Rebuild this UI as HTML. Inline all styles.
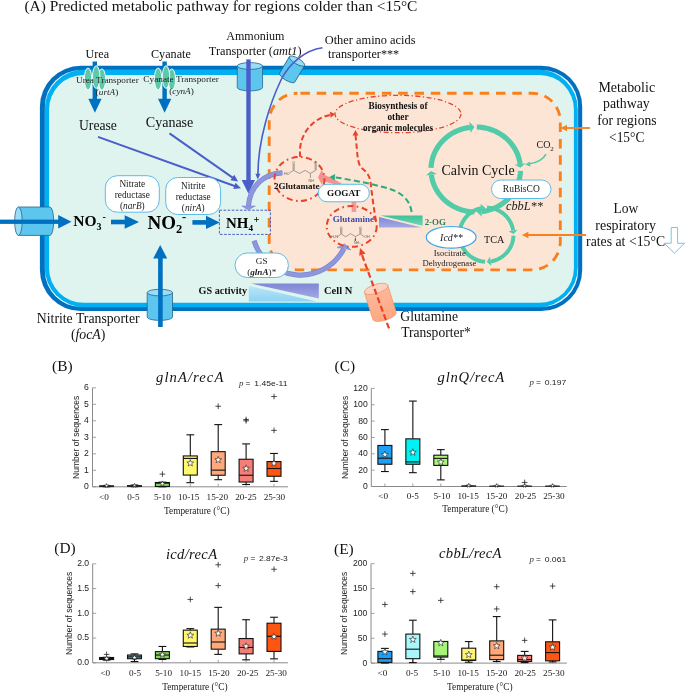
<!DOCTYPE html><html><head><meta charset="utf-8"><style>html,body{margin:0;padding:0;background:#fff;}svg{display:block;will-change:transform;}</style></head><body><svg width="685" height="692" viewBox="0 0 685 692">
<rect width="685" height="692" fill="#fff"/>
<defs><linearGradient id="gpur" x1="0" y1="0" x2="0" y2="1"><stop offset="0" stop-color="#7F86D6"/><stop offset="1" stop-color="#A3A9E3"/></linearGradient><linearGradient id="glb" x1="0" y1="0" x2="0" y2="1"><stop offset="0" stop-color="#B9E6F8"/><stop offset="1" stop-color="#8ED3F3"/></linearGradient><linearGradient id="ggr" x1="0" y1="0" x2="0" y2="1"><stop offset="0" stop-color="#3FC196"/><stop offset="1" stop-color="#6FD6B5"/></linearGradient><linearGradient id="gsal" x1="0" y1="0" x2="0" y2="1"><stop offset="0" stop-color="#FDB99B"/><stop offset="1" stop-color="#FEA781"/></linearGradient></defs>
<text x="24.4" y="11.2" font-family="Liberation Serif" font-size="15.4" font-weight="normal" font-style="normal" fill="#111" text-anchor="start" textLength="393" lengthAdjust="spacingAndGlyphs" >(A) Predicted metabolic pathway for regions colder than &lt;15°C</text>
<rect x="39.9" y="65.8" width="542.3" height="245.2" rx="41" fill="#0070C0"/>
<rect x="44.9" y="69.9" width="533.2" height="237.1" rx="36.4" fill="#fff"/>
<rect x="44.7" y="69.6" width="533.1" height="237.6" rx="39.6" fill="#00B0F0"/>
<rect x="49.05" y="74.9" width="524.85" height="227.95" rx="34.5" fill="#DFF4EF"/>
<rect x="269.2" y="93.2" width="291.1" height="176.7" rx="28.2" fill="#FDE5D6" stroke="#F8801F" stroke-width="2.9" stroke-dasharray="9.5 6.8" stroke-dashoffset="13.3"/>
<text x="85.5" y="57.8" font-family="Liberation Serif" font-size="12.1" font-weight="normal" font-style="normal" fill="#111" text-anchor="start" textLength="23.5" lengthAdjust="spacingAndGlyphs" >Urea</text>
<rect x="92.6" y="61.5" width="4.4" height="38" fill="#0070C0"/>
<polygon points="88.3,98.8 101.6,98.8 94.9,112.7" fill="#0070C0"/>
<ellipse cx="101.9" cy="79.5" rx="3.7" ry="10.6" fill="#5CCAA8" stroke="#fff" stroke-width="0.9"/>
<ellipse cx="88.0" cy="79.0" rx="3.7" ry="11.0" fill="#5CCAA8" stroke="#fff" stroke-width="0.9"/>
<ellipse cx="96.2" cy="77.1" rx="3.7" ry="11.3" fill="#5CCAA8" stroke="#fff" stroke-width="0.9"/>
<text x="76" y="83.2" font-family="Liberation Serif" font-size="9.2" font-weight="normal" font-style="normal" fill="#222" text-anchor="start" textLength="62.7" lengthAdjust="spacingAndGlyphs" >Urea Transporter</text>
<text x="95.8" y="94.9" font-family="Liberation Serif" font-size="9.2" font-weight="normal" font-style="normal" fill="#222" text-anchor="start" >(<tspan font-style="italic">urtA</tspan>)</text>
<text x="151" y="57.8" font-family="Liberation Serif" font-size="12.1" font-weight="normal" font-style="normal" fill="#111" text-anchor="start" textLength="39.8" lengthAdjust="spacingAndGlyphs" >Cyanate</text>
<rect x="162.4" y="61.5" width="4.4" height="38" fill="#0070C0"/>
<polygon points="158,98.8 171.3,98.8 164.6,112.7" fill="#0070C0"/>
<ellipse cx="171.8" cy="79.5" rx="3.7" ry="10.6" fill="#5CCAA8" stroke="#fff" stroke-width="0.9"/>
<ellipse cx="158.1" cy="79.0" rx="3.7" ry="11.0" fill="#5CCAA8" stroke="#fff" stroke-width="0.9"/>
<ellipse cx="166.0" cy="77.1" rx="3.7" ry="11.3" fill="#5CCAA8" stroke="#fff" stroke-width="0.9"/>
<text x="143.3" y="82.4" font-family="Liberation Serif" font-size="9.2" font-weight="normal" font-style="normal" fill="#222" text-anchor="start" textLength="75.6" lengthAdjust="spacingAndGlyphs" >Cyanate Transporter</text>
<text x="169.3" y="94.2" font-family="Liberation Serif" font-size="9.2" font-weight="normal" font-style="normal" fill="#222" text-anchor="start" >(<tspan font-style="italic">cynA</tspan>)</text>
<text x="79" y="129.9" font-family="Liberation Serif" font-size="13.6" font-weight="normal" font-style="normal" fill="#111" text-anchor="start" textLength="37.9" lengthAdjust="spacingAndGlyphs" >Urease</text>
<text x="145.8" y="127" font-family="Liberation Serif" font-size="13.9" font-weight="normal" font-style="normal" fill="#111" text-anchor="start" textLength="47.5" lengthAdjust="spacingAndGlyphs" >Cyanase</text>
<line x1="98" y1="136.9" x2="236" y2="186.5" stroke="#4A5DC8" stroke-width="1.9"/>
<polygon points="233.30,188.94 241.00,188.20 235.53,182.73" fill="#4A5DC8"/>
<line x1="169.5" y1="133.4" x2="234" y2="178.6" stroke="#4A5DC8" stroke-width="1.9"/>
<polygon points="230.47,180.18 238.10,181.50 234.26,174.78" fill="#4A5DC8"/>
<text x="226.2" y="39.7" font-family="Liberation Serif" font-size="12.1" font-weight="normal" font-style="normal" fill="#111" text-anchor="start" textLength="58.3" lengthAdjust="spacingAndGlyphs" >Ammonium</text>
<text x="208.8" y="54.7" font-family="Liberation Serif" font-size="12.2" font-weight="normal" font-style="normal" fill="#111" text-anchor="start" textLength="92.8" lengthAdjust="spacingAndGlyphs" >Transporter (<tspan font-style="italic">amt1</tspan>)</text>
<g>
<path d="M237.25,66 L237.25,87.5 A12.65,3.4 0 0 0 262.55,87.5 L262.55,66 Z" fill="#5CC6EE" stroke="#23668F" stroke-width="0.8"/>
<ellipse cx="249.9" cy="66" rx="12.65" ry="3.4" fill="#9ADDF5" stroke="#23668F" stroke-width="0.8"/>
</g>
<rect x="246.3" y="59.4" width="4.4" height="121" fill="#4A5DC8"/>
<polygon points="241.6,179.9 255,179.9 248.4,193.4" fill="#4A5DC8"/>
<text x="324.7" y="43.6" font-family="Liberation Serif" font-size="12.3" font-weight="normal" font-style="normal" fill="#111" text-anchor="start" textLength="90.9" lengthAdjust="spacingAndGlyphs" >Other amino acids</text>
<text x="328" y="58.3" font-family="Liberation Serif" font-size="12.3" font-weight="normal" font-style="normal" fill="#111" text-anchor="start" textLength="71.2" lengthAdjust="spacingAndGlyphs" >transporter***</text>
<g transform="rotate(30.7 292.1 69.35)">
<path d="M283.3,59.75 L283.3,78.95 A8.8,2.9 0 0 0 300.90000000000003,78.95 L300.90000000000003,59.75 Z" fill="#5CC6EE" stroke="#23668F" stroke-width="0.8"/>
<ellipse cx="292.1" cy="59.75" rx="8.8" ry="2.9" fill="#9ADDF5" stroke="#23668F" stroke-width="0.8"/>
</g>
<path d="M322.5,47.8 C305,50 289,64 281,80 C270,103 258,140 257.9,174.5" fill="none" stroke="#4A5DC8" stroke-width="1.6"/>
<polygon points="255.4,173.8 260.4,173.8 257.8,179.6" fill="#4A5DC8"/>
<path d="M18.4,207 L49.9,207 A3.8,14.2 0 0 1 49.9,235.4 L18.4,235.4 Z" fill="#5CC6EE" stroke="#23668F" stroke-width="0.8"/>
<ellipse cx="18.4" cy="221.2" rx="3.8" ry="14.2" fill="#9ADDF5" stroke="#23668F" stroke-width="0.8"/>
<rect x="0" y="219.6" width="59" height="4.3" fill="#0070C0"/>
<polygon points="58.2,215 71.5,221.7 58.2,228.4" fill="#0070C0"/>
<text x="73.2" y="225.8" font-family="Liberation Serif" font-size="15.5" font-weight="bold" font-style="normal" fill="#000" text-anchor="start" >NO</text>
<text x="96.6" y="229.9" font-family="Liberation Serif" font-size="10" font-weight="bold" font-style="normal" fill="#000" text-anchor="start" >3</text>
<text x="102.5" y="219.5" font-family="Liberation Serif" font-size="10" font-weight="bold" font-style="normal" fill="#000" text-anchor="start" >-</text>
<rect x="111" y="219.7" width="14" height="4.6" fill="#0070C0"/>
<polygon points="124.7,215.3 139,222 124.7,228.7" fill="#0070C0"/>
<text x="147.5" y="229" font-family="Liberation Serif" font-size="19" font-weight="bold" font-style="normal" fill="#000" text-anchor="start" >NO</text>
<text x="176" y="232.7" font-family="Liberation Serif" font-size="12.5" font-weight="bold" font-style="normal" fill="#000" text-anchor="start" >2</text>
<text x="182" y="221" font-family="Liberation Serif" font-size="12.5" font-weight="bold" font-style="normal" fill="#000" text-anchor="start" >-</text>
<rect x="192.4" y="220.1" width="14" height="4.6" fill="#0070C0"/>
<polygon points="206,215.7 219.8,222.4 206,229.1" fill="#0070C0"/>
<rect x="219.4" y="210.2" width="51" height="24.2" fill="none" stroke="#4A5DC8" stroke-width="1" stroke-dasharray="2.6 1.5"/>
<text x="225.9" y="227.6" font-family="Liberation Serif" font-size="15" font-weight="bold" font-style="normal" fill="#000" text-anchor="start" textLength="22.4" lengthAdjust="spacingAndGlyphs" >NH</text>
<text x="248.6" y="231.4" font-family="Liberation Serif" font-size="9.2" font-weight="bold" font-style="normal" fill="#000" text-anchor="start" >4</text>
<text x="253.6" y="223.4" font-family="Liberation Serif" font-size="10.5" font-weight="bold" font-style="normal" fill="#000" text-anchor="start" >+</text>
<rect x="105.3" y="175.7" width="54" height="36.5" rx="12" fill="#fff" stroke="#5BBCE8" stroke-width="1"/>
<text x="132.3" y="187.3" font-family="Liberation Serif" font-size="9.3" font-weight="normal" font-style="normal" fill="#222" text-anchor="middle" >Nitrate</text>
<text x="132.3" y="198.2" font-family="Liberation Serif" font-size="9.3" font-weight="normal" font-style="normal" fill="#222" text-anchor="middle" >reductase</text>
<text x="132.3" y="209" font-family="Liberation Serif" font-size="9.3" font-weight="normal" font-style="normal" fill="#222" text-anchor="middle" >(<tspan font-style="italic">narB</tspan>)</text>
<rect x="165.7" y="177.5" width="54.9" height="37" rx="12" fill="#fff" stroke="#5BBCE8" stroke-width="1"/>
<text x="193.2" y="189.4" font-family="Liberation Serif" font-size="9.3" font-weight="normal" font-style="normal" fill="#222" text-anchor="middle" >Nitrite</text>
<text x="193.2" y="200.2" font-family="Liberation Serif" font-size="9.3" font-weight="normal" font-style="normal" fill="#222" text-anchor="middle" >reductase</text>
<text x="193.2" y="211" font-family="Liberation Serif" font-size="9.3" font-weight="normal" font-style="normal" fill="#222" text-anchor="middle" >(<tspan font-style="italic">nirA</tspan>)</text>
<g>
<path d="M147.2,292.6 L147.2,317.1 A12.65,3.3 0 0 0 172.5,317.1 L172.5,292.6 Z" fill="#5CC6EE" stroke="#23668F" stroke-width="0.8"/>
<ellipse cx="159.85" cy="292.6" rx="12.65" ry="3.3" fill="#9ADDF5" stroke="#23668F" stroke-width="0.8"/>
</g>
<rect x="158.1" y="257" width="4.6" height="70" fill="#0070C0"/>
<polygon points="153.2,258.5 167.2,258.5 160.2,244.9" fill="#0070C0"/>
<text x="36.8" y="322.9" font-family="Liberation Serif" font-size="13.8" font-weight="normal" font-style="normal" fill="#111" text-anchor="start" textLength="102.8" lengthAdjust="spacingAndGlyphs" >Nitrite Transporter</text>
<text x="70.9" y="339.2" font-family="Liberation Serif" font-size="13.8" font-weight="normal" font-style="normal" fill="#111" text-anchor="start" >(<tspan font-style="italic">focA</tspan>)</text>
<ellipse cx="398" cy="114" rx="63" ry="18.7" fill="none" stroke="#E8422B" stroke-width="1.3" stroke-dasharray="5 2.5 1.2 2.5"/>
<text x="398" y="109.2" font-family="Liberation Serif" font-size="9.3" font-weight="bold" font-style="normal" fill="#111" text-anchor="middle" textLength="59" lengthAdjust="spacingAndGlyphs" >Biosynthesis of</text>
<text x="398" y="120" font-family="Liberation Serif" font-size="9.3" font-weight="bold" font-style="normal" fill="#111" text-anchor="middle" >other</text>
<text x="398" y="130.6" font-family="Liberation Serif" font-size="9.3" font-weight="bold" font-style="normal" fill="#111" text-anchor="middle" textLength="70" lengthAdjust="spacingAndGlyphs" >organic molecules</text>
<path d="M300.3,157 A37.6,37.6 0 0 1 330,114.9" fill="none" stroke="#E8422B" stroke-width="2" stroke-dasharray="5.5 3"/>
<polygon points="330.65,117.75 335.20,114.10 329.84,111.81" fill="#E8422B"/>
<path d="M376,221 C374,210 372,195 370.5,182 C369.5,175 366,171 361.5,168 C358.5,165 357.5,158 356.8,148 L355.5,135" fill="none" stroke="#E8422B" stroke-width="2" stroke-dasharray="5.5 3"/>
<polygon points="358.50,135.50 355.50,130.00 352.50,135.50" fill="#E8422B"/>
<path d="M282.4,172.8 C264,173.5 250,186 248.5,206" fill="none" stroke="#7F88D4" stroke-width="5.2"/>
<path d="M282.4,172.8 C264,173.5 250,186 248.5,206" fill="none" stroke="#8F97DC" stroke-width="3.6"/>
<polygon points="241.8,206 255.4,206 248.3,210" fill="#8F97DC" stroke="#7F88D4" stroke-width="0.6"/>
<path d="M254.1,240.7 A48.6,48.6 0 0 0 343.8,248.7" fill="none" stroke="#7F88D4" stroke-width="5.2"/>
<path d="M254.1,240.7 A48.6,48.6 0 0 0 343.8,248.7" fill="none" stroke="#8F97DC" stroke-width="3.6"/>
<polygon points="337,247.6 344.7,243.9 351,249.9 344,248.6" fill="#8F97DC" stroke="#7F88D4" stroke-width="0.6"/>
<rect x="235" y="253" width="53.4" height="24.5" rx="12.2" fill="#fff" stroke="#5BBCE8" stroke-width="1"/>
<text x="261.7" y="264.3" font-family="Liberation Serif" font-size="9.2" font-weight="normal" font-style="normal" fill="#222" text-anchor="middle" >GS</text>
<text x="261.7" y="275.3" font-family="Liberation Serif" font-size="9.2" font-weight="normal" font-style="normal" fill="#222" text-anchor="middle" >(<tspan font-weight="bold" font-style="italic">glnA</tspan>)*</text>
<text x="198.6" y="294.2" font-family="Liberation Serif" font-size="10.2" font-weight="bold" font-style="normal" fill="#111" text-anchor="start" textLength="48.4" lengthAdjust="spacingAndGlyphs" >GS activity</text>
<polygon points="250.9,283.5 318.8,283.5 318.8,298.4" fill="url(#gpur)"/>
<polygon points="248.8,285.9 248.8,301.6 316.6,301.6" fill="url(#glb)"/>
<text x="324" y="293.6" font-family="Liberation Serif" font-size="10.5" font-weight="bold" font-style="normal" fill="#111" text-anchor="start" >Cell N</text>
<rect x="351.6" y="196" width="4.6" height="16" fill="#F2898A" fill-opacity="0.85"/>
<polygon points="318,177.2 321.8,169.8 324,174.8 333,178.5 343,184.6 335.5,184.6 323.2,181.3 321.8,184.8" fill="#F2898A" fill-opacity="0.9"/>
<ellipse cx="299.5" cy="179" rx="25" ry="22" fill="none" stroke="#E8422B" stroke-width="2" stroke-dasharray="6 3.5 1.6 3.5"/>
<g stroke="#666" stroke-width="0.6" fill="none"><path d="M289.8,172.6 L293.6,170.4 L299.4,173.4 L305.2,170.4 L310.4,173.4 L315.6,170.4"/><path d="M293.1,170.2 L293.1,163.8 M294.2,170.2 L294.2,163.8"/><path d="M315.1,170.2 L315.1,163.8 M316.2,170.2 L316.2,163.8"/><path d="M310.4,173.4 L310.4,178"/></g>
<circle cx="293.6" cy="162.6" r="1.1" fill="none" stroke="#777" stroke-width="0.5"/>
<circle cx="315.6" cy="162.6" r="1.1" fill="none" stroke="#777" stroke-width="0.5"/>
<g font-family="Liberation Sans" font-size="3.6" fill="#555"><text x="284.1" y="174.9">HO</text><text x="308.6" y="181.5">NH</text></g>
<text x="274.1" y="189.4" font-family="Liberation Serif" font-size="9" font-weight="bold" font-style="normal" fill="#111" text-anchor="start" textLength="45.5" lengthAdjust="spacingAndGlyphs" >2Glutamate</text>
<ellipse cx="351.7" cy="226.4" rx="25" ry="20.4" fill="none" stroke="#E8422B" stroke-width="2" stroke-dasharray="6 3.5 1.6 3.5"/>
<g stroke="#666" stroke-width="0.6" fill="none"><path d="M337,237.1 L341.2,233.9 L345.7,236.8 L350.5,233.6 L355.3,236.5 L360.4,233.9 L364,236.6"/><path d="M340.7,233.7 L340.7,228.8 M341.8,233.7 L341.8,228.8"/><path d="M359.9,233.7 L359.9,228.8 M361,233.7 L361,228.8"/></g>
<polygon points="355.3,236.5 354.6,240.8 356.1,240.8" fill="#333"/>
<circle cx="341.2" cy="227.9" r="1.1" fill="none" stroke="#777" stroke-width="0.5"/>
<circle cx="360.4" cy="227.9" r="1.1" fill="none" stroke="#777" stroke-width="0.5"/>
<g font-family="Liberation Sans" font-size="3.6" fill="#555"><text x="331.2" y="238.2">H₂N</text><text x="364.3" y="238">OH</text><text x="354" y="243.8">NH₂</text></g>
<text x="332.8" y="222.4" font-family="Liberation Serif" font-size="9" font-weight="bold" font-style="normal" fill="#3E49A6" text-anchor="start" textLength="41.2" lengthAdjust="spacingAndGlyphs" >Glutamine</text>
<path d="M411.6,212 C410,200 402,192 385,187.5 C368,183 350,179.5 334,177.2" fill="none" stroke="#2EAA7E" stroke-width="2" stroke-dasharray="6 3.2"/>
<polygon points="335.13,174.12 329.40,176.90 334.64,180.51" fill="#2EAA7E"/>
<rect x="318.2" y="184.3" width="51.1" height="17.5" rx="8.7" fill="#fff" stroke="#5BBCE8" stroke-width="1"/>
<text x="327" y="196.4" font-family="Liberation Serif" font-size="9.2" font-weight="bold" font-style="normal" fill="#111" text-anchor="start" textLength="33.5" lengthAdjust="spacingAndGlyphs" >GOGAT</text>
<polygon points="380.2,215.4 422.6,215.4 422.6,225.7" fill="url(#ggr)"/>
<polygon points="379,216.9 379,227.4 421.8,227.4" fill="url(#gpur)"/>
<text x="424.7" y="224.9" font-family="Liberation Serif" font-size="9.2" font-weight="bold" font-style="normal" fill="#2E7D5B" text-anchor="start" textLength="21.2" lengthAdjust="spacingAndGlyphs" >2-OG</text>
<g transform="rotate(-17.3 380.3 302.35)"><path d="M368.1,288.25 L368.1,316.45 A12.2,4.5 0 0 0 392.5,316.45 L392.5,288.25 Z" fill="url(#gsal)" stroke="#F59A6E" stroke-width="0.8"/><ellipse cx="380.3" cy="288.25" rx="12.2" ry="4.5" fill="#FCD2C0" stroke="#F59A6E" stroke-width="0.8"/></g>
<path d="M389,328.4 L362,255" fill="none" stroke="#E8422B" stroke-width="2.2" stroke-dasharray="6 3"/>
<polygon points="365.57,253.43 360.00,248.00 359.18,255.74" fill="#E8422B"/>
<text x="400.3" y="320.9" font-family="Liberation Serif" font-size="13.7" font-weight="normal" font-style="normal" fill="#111" text-anchor="start" textLength="57.7" lengthAdjust="spacingAndGlyphs" >Glutamine</text>
<text x="401.2" y="337.3" font-family="Liberation Serif" font-size="13.7" font-weight="normal" font-style="normal" fill="#111" text-anchor="start" textLength="69.6" lengthAdjust="spacingAndGlyphs" >Transporter*</text>
<path d="M431.03,167.87 L431.12,166.38 L431.26,164.90 L431.46,163.42 L431.71,161.95 L432.02,160.49 L432.38,159.04 L432.79,157.61 L433.25,156.18 L433.77,154.78 L434.34,153.39 L434.96,152.02 L435.63,150.68 L436.35,149.35 L437.12,148.05 L437.93,146.78 L438.79,145.54 L439.70,144.32 L440.65,143.14 L441.64,141.99 L442.68,140.87 L443.75,139.79 L444.87,138.74 L446.02,137.73 L447.21,136.76 L448.44,135.83 L449.70,134.95 L450.99,134.10 L452.31,133.30 L453.66,132.54 L455.03,131.83 L456.44,131.16 L457.86,130.54 L459.31,129.97 L460.78,129.45 L462.27,128.98 L463.77,128.55 L465.29,128.18 L466.82,127.86 L468.36,127.58 L469.91,127.36" fill="none" stroke="#52CBA8" stroke-width="5.2"/>
<polygon points="469.21,121.81 474.42,127.02 470.60,132.92" fill="#52CBA8"/>
<path d="M476.77,127.01 L478.35,127.07 L479.93,127.19 L481.51,127.35 L483.08,127.57 L484.64,127.85 L486.19,128.17 L487.73,128.55 L489.25,128.98 L490.76,129.46 L492.24,129.99 L493.71,130.57 L495.15,131.20 L496.57,131.88 L497.96,132.60 L499.32,133.37 L500.66,134.19 L501.96,135.05 L503.23,135.96 L504.47,136.90 L505.66,137.89 L506.83,138.92 L507.95,139.99 L509.03,141.09 L510.07,142.23 L511.07,143.40 L512.02,144.61 L512.93,145.84 L513.79,147.11 L514.60,148.41 L515.36,149.73 L516.08,151.07 L516.74,152.44 L517.35,153.84 L517.91,155.25 L518.41,156.68 L518.87,158.12 L519.26,159.58 L519.61,161.05 L519.89,162.53 L520.13,164.03" fill="none" stroke="#52CBA8" stroke-width="5.2"/>
<polygon points="525.68,163.27 520.47,167.87 514.58,164.78" fill="#52CBA8"/>
<path d="M520.47,170.98 L520.39,172.48 L520.25,173.98 L520.06,175.46 L519.81,176.95 L519.50,178.42 L519.15,179.88 L518.73,181.33 L518.27,182.76 L517.75,184.18 L517.18,185.58 L516.55,186.95 L515.88,188.31 L515.15,189.64 L514.38,190.95 L513.56,192.23 L512.69,193.49 L511.78,194.71 L510.82,195.90 L509.81,197.06 L508.77,198.19 L507.68,199.27 L506.56,200.33 L505.39,201.34 L504.19,202.31 L502.95,203.25 L501.68,204.14 L500.38,204.98 L499.05,205.79 L497.68,206.55 L496.29,207.26 L494.88,207.92 L493.44,208.54 L491.97,209.11 L490.49,209.63 L488.99,210.10 L487.48,210.52 L485.94,210.88 L484.40,211.20 L482.84,211.46 L481.28,211.67" fill="none" stroke="#52CBA8" stroke-width="5.2"/>
<polygon points="481.89,216.84 476.92,211.99 480.67,206.51" fill="#52CBA8"/>
<path d="M474.34,211.98 L472.76,211.91 L471.19,211.78 L469.62,211.60 L468.06,211.37 L466.50,211.08 L464.96,210.75 L463.43,210.36 L461.92,209.92 L460.43,209.43 L458.95,208.89 L457.50,208.30 L456.06,207.67 L454.65,206.98 L453.27,206.25 L451.92,205.47 L450.60,204.65 L449.30,203.78 L448.05,202.88 L446.82,201.93 L445.63,200.93 L444.48,199.90 L443.37,198.84 L442.30,197.73 L441.27,196.59 L440.28,195.42 L439.34,194.21 L438.44,192.97 L437.59,191.71 L436.79,190.41 L436.04,189.09 L435.33,187.75 L434.68,186.38 L434.08,184.99 L433.53,183.58 L433.03,182.16 L432.59,180.71 L432.20,179.26 L431.86,177.79 L431.58,176.31 L431.35,174.83" fill="none" stroke="#52CBA8" stroke-width="5.2"/>
<polygon points="425.80,175.57 431.03,170.98 436.90,174.09" fill="#52CBA8"/>
<text x="441.4" y="175.2" font-family="Liberation Serif" font-size="13.9" font-weight="normal" font-style="normal" fill="#111" text-anchor="start" textLength="73.2" lengthAdjust="spacingAndGlyphs" >Calvin Cycle</text>
<path d="M485.09,261.66 L483.14,261.49 L481.21,261.18 L479.31,260.72 L477.44,260.14 L475.63,259.41 L473.87,258.56 L472.17,257.58 L470.55,256.49 L469.02,255.28 L467.58,253.96 L466.23,252.54 L464.99,251.02 L463.87,249.43 L462.86,247.75 L461.98,246.00 L461.23,244.20 L460.61,242.35 L460.12,240.45 L459.77,238.53 L459.57,236.58 L459.50,234.63 L459.58,232.68 L459.79,230.73 L460.15,228.81 L460.65,226.92 L461.28,225.07 L462.04,223.27 L462.93,221.53 L463.95,219.86 L465.08,218.26 L466.33,216.76 L467.68,215.34 L469.13,214.03 L470.67,212.83 L472.29,211.74 L473.99,210.77 L475.76,209.93 L477.58,209.22 L479.44,208.64 L481.35,208.20" fill="none" stroke="#52CBA8" stroke-width="4.0"/>
<polygon points="480.47,203.68 485.09,207.74 482.23,212.71" fill="#52CBA8"/>
<path d="M486.97,207.70 L487.91,207.74 L488.85,207.80 L489.79,207.90 L490.72,208.03 L491.65,208.20 L492.57,208.39 L493.49,208.62 L494.39,208.88 L495.29,209.17 L496.18,209.49 L497.05,209.85 L497.91,210.23 L498.76,210.64 L499.59,211.09 L500.41,211.56 L501.21,212.06 L501.99,212.58 L502.75,213.14 L503.49,213.72 L504.21,214.32 L504.91,214.95 L505.59,215.61 L506.25,216.29 L506.88,216.99 L507.48,217.71 L508.06,218.45 L508.62,219.21 L509.14,219.99 L509.64,220.79 L510.11,221.61 L510.56,222.44 L510.97,223.29 L511.35,224.15 L511.71,225.02 L512.03,225.91 L512.32,226.81 L512.58,227.71 L512.81,228.63 L513.00,229.55 L513.17,230.48" fill="none" stroke="#52CBA8" stroke-width="4.0"/>
<polygon points="517.71,229.76 513.49,233.99 508.62,231.20" fill="#52CBA8"/>
<path d="M513.48,235.64 L513.44,236.57 L513.35,237.50 L513.24,238.42 L513.10,239.34 L512.92,240.26 L512.71,241.16 L512.48,242.06 L512.21,242.95 L511.91,243.83 L511.58,244.71 L511.22,245.56 L510.83,246.41 L510.41,247.24 L509.96,248.06 L509.49,248.86 L508.99,249.64 L508.46,250.41 L507.91,251.16 L507.33,251.88 L506.72,252.59 L506.09,253.28 L505.44,253.94 L504.77,254.58 L504.07,255.20 L503.35,255.79 L502.62,256.36 L501.86,256.90 L501.09,257.42 L500.29,257.91 L499.49,258.37 L498.66,258.81 L497.83,259.21 L496.97,259.59 L496.11,259.93 L495.23,260.25 L494.35,260.53 L493.45,260.79 L492.55,261.01 L491.64,261.21 L490.72,261.37" fill="none" stroke="#52CBA8" stroke-width="4.0"/>
<polygon points="491.44,265.91 486.74,261.70 490.00,256.82" fill="#52CBA8"/>
<text x="484.1" y="242.5" font-family="Liberation Serif" font-size="10.2" font-weight="normal" font-style="normal" fill="#111" text-anchor="start" textLength="20.3" lengthAdjust="spacingAndGlyphs" >TCA</text>
<text x="536.5" y="148.4" font-family="Liberation Serif" font-size="10" font-weight="normal" font-style="normal" fill="#222" text-anchor="start" >CO</text>
<text x="550.3" y="151.2" font-family="Liberation Serif" font-size="7" font-weight="normal" font-style="normal" fill="#222" text-anchor="start" >2</text>
<path d="M546,154.2 C543,160 536,163 528.5,164" fill="none" stroke="#52CBA8" stroke-width="1.6"/>
<polygon points="529.95,161.46 525.20,164.50 530.41,166.64" fill="#52CBA8"/>
<rect x="491.5" y="180" width="59.5" height="18.5" rx="9.2" fill="#fff" stroke="#5BBCE8" stroke-width="1"/>
<text x="521.3" y="192.2" font-family="Liberation Serif" font-size="9.5" font-weight="normal" font-style="normal" fill="#222" text-anchor="middle" textLength="36.9" lengthAdjust="spacingAndGlyphs" >RuBisCO</text>
<text x="506" y="210.4" font-family="Liberation Serif" font-size="12.3" font-weight="normal" font-style="italic" fill="#222" text-anchor="start" textLength="36.9" lengthAdjust="spacingAndGlyphs" >cbbL**</text>
<ellipse cx="451.2" cy="237.3" rx="24.9" ry="10.8" fill="#fff" stroke="#3AA8E8" stroke-width="1.2"/>
<text x="440.1" y="241" font-family="Liberation Serif" font-size="9.9" font-weight="normal" font-style="italic" fill="#222" text-anchor="start" textLength="22.5" lengthAdjust="spacingAndGlyphs" >Icd**</text>
<text x="449.8" y="256.3" font-family="Liberation Serif" font-size="8.6" font-weight="normal" font-style="normal" fill="#222" text-anchor="middle" textLength="32.1" lengthAdjust="spacingAndGlyphs" >Isocitrate</text>
<text x="449.5" y="266" font-family="Liberation Serif" font-size="8.7" font-weight="normal" font-style="normal" fill="#222" text-anchor="middle" textLength="53.9" lengthAdjust="spacingAndGlyphs" >Dehydrogenase</text>
<text x="598.4" y="91.5" font-family="Liberation Serif" font-size="13.8" font-weight="normal" font-style="normal" fill="#111" text-anchor="start" textLength="56.7" lengthAdjust="spacingAndGlyphs" >Metabolic</text>
<text x="603" y="107.6" font-family="Liberation Serif" font-size="13.8" font-weight="normal" font-style="normal" fill="#111" text-anchor="start" textLength="46.7" lengthAdjust="spacingAndGlyphs" >pathway</text>
<text x="597.2" y="125" font-family="Liberation Serif" font-size="13.8" font-weight="normal" font-style="normal" fill="#111" text-anchor="start" textLength="59.4" lengthAdjust="spacingAndGlyphs" >for regions</text>
<text x="609.1" y="141.8" font-family="Liberation Serif" font-size="13.8" font-weight="normal" font-style="normal" fill="#111" text-anchor="start" textLength="35.3" lengthAdjust="spacingAndGlyphs" >&lt;15°C</text>
<line x1="590" y1="128" x2="566" y2="128" stroke="#F8801F" stroke-width="1.8"/>
<polygon points="567.00,124.70 560.50,128.00 567.00,131.30" fill="#F8801F"/>
<text x="613.4" y="213.1" font-family="Liberation Serif" font-size="13.8" font-weight="normal" font-style="normal" fill="#111" text-anchor="start" textLength="24.8" lengthAdjust="spacingAndGlyphs" >Low</text>
<text x="595.3" y="229.5" font-family="Liberation Serif" font-size="13.8" font-weight="normal" font-style="normal" fill="#111" text-anchor="start" textLength="60.6" lengthAdjust="spacingAndGlyphs" >respiratory</text>
<text x="586.1" y="246.3" font-family="Liberation Serif" font-size="13.8" font-weight="normal" font-style="normal" fill="#111" text-anchor="start" textLength="79" lengthAdjust="spacingAndGlyphs" >rates at &lt;15°C</text>
<line x1="586" y1="235" x2="528" y2="235" stroke="#F8801F" stroke-width="1.8"/>
<polygon points="528.40,231.70 521.90,235.00 528.40,238.30" fill="#F8801F"/>
<polygon points="671.2,227.5 677.6,227.5 677.6,243.3 684.5,243.3 674.4,253.2 664.3,243.3 671.2,243.3" fill="#fff" stroke="#6CC8F0" stroke-width="1"/>
<line x1="92.5" y1="387.80" x2="92.5" y2="486.8" stroke="#8a8a8a" stroke-width="1"/>
<line x1="92.5" y1="486.8" x2="288" y2="486.8" stroke="#8a8a8a" stroke-width="1"/>
<line x1="92.5" y1="486.80" x2="96.0" y2="486.80" stroke="#8a8a8a" stroke-width="0.8"/>
<text x="88.9" y="489.20" font-family="Liberation Sans" font-size="8.6" fill="#222" text-anchor="end">0</text>
<line x1="92.5" y1="470.30" x2="96.0" y2="470.30" stroke="#8a8a8a" stroke-width="0.8"/>
<text x="88.9" y="472.70" font-family="Liberation Sans" font-size="8.6" fill="#222" text-anchor="end">1</text>
<line x1="92.5" y1="453.80" x2="96.0" y2="453.80" stroke="#8a8a8a" stroke-width="0.8"/>
<text x="88.9" y="456.20" font-family="Liberation Sans" font-size="8.6" fill="#222" text-anchor="end">2</text>
<line x1="92.5" y1="437.30" x2="96.0" y2="437.30" stroke="#8a8a8a" stroke-width="0.8"/>
<text x="88.9" y="439.70" font-family="Liberation Sans" font-size="8.6" fill="#222" text-anchor="end">3</text>
<line x1="92.5" y1="420.80" x2="96.0" y2="420.80" stroke="#8a8a8a" stroke-width="0.8"/>
<text x="88.9" y="423.20" font-family="Liberation Sans" font-size="8.6" fill="#222" text-anchor="end">4</text>
<line x1="92.5" y1="404.30" x2="96.0" y2="404.30" stroke="#8a8a8a" stroke-width="0.8"/>
<text x="88.9" y="406.70" font-family="Liberation Sans" font-size="8.6" fill="#222" text-anchor="end">5</text>
<line x1="92.5" y1="387.80" x2="96.0" y2="387.80" stroke="#8a8a8a" stroke-width="0.8"/>
<text x="88.9" y="390.20" font-family="Liberation Sans" font-size="8.6" fill="#222" text-anchor="end">6</text>
<line x1="106.60" y1="486.8" x2="106.60" y2="483.8" stroke="#8a8a8a" stroke-width="0.8"/>
<text x="103.90" y="499.7" font-family="Liberation Serif" font-size="9.2" fill="#222" text-anchor="middle">&lt;0</text>
<line x1="134.50" y1="486.8" x2="134.50" y2="483.8" stroke="#8a8a8a" stroke-width="0.8"/>
<text x="133.40" y="499.7" font-family="Liberation Serif" font-size="9.2" fill="#222" text-anchor="middle">0-5</text>
<line x1="162.40" y1="486.8" x2="162.40" y2="483.8" stroke="#8a8a8a" stroke-width="0.8"/>
<text x="162.40" y="499.7" font-family="Liberation Serif" font-size="9.2" fill="#222" text-anchor="middle">5-10</text>
<line x1="190.30" y1="486.8" x2="190.30" y2="483.8" stroke="#8a8a8a" stroke-width="0.8"/>
<text x="188.70" y="499.7" font-family="Liberation Serif" font-size="9.2" fill="#222" text-anchor="middle">10-15</text>
<line x1="218.20" y1="486.8" x2="218.20" y2="483.8" stroke="#8a8a8a" stroke-width="0.8"/>
<text x="217.30" y="499.7" font-family="Liberation Serif" font-size="9.2" fill="#222" text-anchor="middle">15-20</text>
<line x1="246.10" y1="486.8" x2="246.10" y2="483.8" stroke="#8a8a8a" stroke-width="0.8"/>
<text x="245.90" y="499.7" font-family="Liberation Serif" font-size="9.2" fill="#222" text-anchor="middle">20-25</text>
<line x1="274.00" y1="486.8" x2="274.00" y2="483.8" stroke="#8a8a8a" stroke-width="0.8"/>
<text x="274.40" y="499.7" font-family="Liberation Serif" font-size="9.2" fill="#222" text-anchor="middle">25-30</text>
<line x1="106.60" y1="485.48" x2="106.60" y2="485.81" stroke="#222" stroke-width="0.9"/>
<line x1="106.60" y1="486.80" x2="106.60" y2="486.63" stroke="#222" stroke-width="0.9"/>
<line x1="102.70" y1="485.48" x2="110.50" y2="485.48" stroke="#222" stroke-width="0.9"/>
<line x1="102.70" y1="486.80" x2="110.50" y2="486.80" stroke="#222" stroke-width="0.9"/>
<rect x="99.60" y="485.81" width="14.0" height="0.82" fill="#333" stroke="#222" stroke-width="0.9"/>
<line x1="99.60" y1="486.14" x2="113.60" y2="486.14" stroke="#222" stroke-width="0.9"/>
<polygon points="106.60,483.62 107.13,485.05 108.65,485.11 107.46,486.06 107.87,487.53 106.60,486.68 105.33,487.53 105.74,486.06 104.55,485.11 106.07,485.05" fill="#fff" stroke="#222" stroke-width="0.6"/>
<line x1="134.50" y1="484.99" x2="134.50" y2="485.48" stroke="#222" stroke-width="0.9"/>
<line x1="134.50" y1="486.80" x2="134.50" y2="486.47" stroke="#222" stroke-width="0.9"/>
<line x1="130.60" y1="484.99" x2="138.40" y2="484.99" stroke="#222" stroke-width="0.9"/>
<line x1="130.60" y1="486.80" x2="138.40" y2="486.80" stroke="#222" stroke-width="0.9"/>
<rect x="127.50" y="485.48" width="14.0" height="0.99" fill="#333" stroke="#222" stroke-width="0.9"/>
<line x1="127.50" y1="485.98" x2="141.50" y2="485.98" stroke="#222" stroke-width="0.9"/>
<polygon points="134.50,483.29 135.03,484.72 136.55,484.78 135.36,485.73 135.77,487.20 134.50,486.35 133.23,487.20 133.64,485.73 132.45,484.78 133.97,484.72" fill="#fff" stroke="#222" stroke-width="0.6"/>
<line x1="162.40" y1="482.18" x2="162.40" y2="482.51" stroke="#111" stroke-width="1.1"/>
<line x1="162.40" y1="486.80" x2="162.40" y2="486.47" stroke="#111" stroke-width="1.1"/>
<line x1="158.50" y1="482.18" x2="166.30" y2="482.18" stroke="#111" stroke-width="1.1"/>
<line x1="158.50" y1="486.80" x2="166.30" y2="486.80" stroke="#111" stroke-width="1.1"/>
<rect x="155.40" y="482.51" width="14.0" height="3.96" fill="#7ED957" stroke="#111" stroke-width="1.1"/>
<line x1="155.40" y1="483.17" x2="169.40" y2="483.17" stroke="#111" stroke-width="1.1"/>
<path d="M159.60,474.10 H165.20 M162.40,471.30 V476.90" stroke="#222" stroke-width="0.8"/>
<polygon points="162.40,480.92 163.11,482.83 165.14,482.91 163.54,484.17 164.09,486.13 162.40,485.00 160.71,486.13 161.26,484.17 159.66,482.91 161.69,482.83" fill="#fff" stroke="#222" stroke-width="0.6"/>
<line x1="190.30" y1="434.82" x2="190.30" y2="455.94" stroke="#111" stroke-width="1.1"/>
<line x1="190.30" y1="482.68" x2="190.30" y2="475.09" stroke="#111" stroke-width="1.1"/>
<line x1="186.40" y1="434.82" x2="194.20" y2="434.82" stroke="#111" stroke-width="1.1"/>
<line x1="186.40" y1="482.68" x2="194.20" y2="482.68" stroke="#111" stroke-width="1.1"/>
<rect x="183.30" y="455.94" width="14.0" height="19.14" fill="#FFF86C" stroke="#111" stroke-width="1.1"/>
<line x1="183.30" y1="458.42" x2="197.30" y2="458.42" stroke="#111" stroke-width="1.1"/>
<polygon points="190.30,459.57 191.18,461.96 193.72,462.06 191.73,463.64 192.42,466.09 190.30,464.68 188.18,466.09 188.87,463.64 186.88,462.06 189.42,461.96" fill="#fff" stroke="#222" stroke-width="0.6"/>
<line x1="218.20" y1="424.60" x2="218.20" y2="451.66" stroke="#111" stroke-width="1.1"/>
<line x1="218.20" y1="479.70" x2="218.20" y2="475.25" stroke="#111" stroke-width="1.1"/>
<line x1="214.30" y1="424.60" x2="222.10" y2="424.60" stroke="#111" stroke-width="1.1"/>
<line x1="214.30" y1="479.70" x2="222.10" y2="479.70" stroke="#111" stroke-width="1.1"/>
<rect x="211.20" y="451.66" width="14.0" height="23.59" fill="#FFA97A" stroke="#111" stroke-width="1.1"/>
<line x1="211.20" y1="470.13" x2="225.20" y2="470.13" stroke="#111" stroke-width="1.1"/>
<path d="M215.40,406.28 H221.00 M218.20,403.48 V409.08" stroke="#222" stroke-width="0.8"/>
<polygon points="218.20,456.27 219.08,458.66 221.62,458.76 219.63,460.34 220.32,462.79 218.20,461.38 216.08,462.79 216.77,460.34 214.78,458.76 217.32,458.66" fill="#fff" stroke="#222" stroke-width="0.6"/>
<line x1="246.10" y1="443.90" x2="246.10" y2="459.25" stroke="#111" stroke-width="1.1"/>
<line x1="246.10" y1="484.49" x2="246.10" y2="482.01" stroke="#111" stroke-width="1.1"/>
<line x1="242.20" y1="443.90" x2="250.00" y2="443.90" stroke="#111" stroke-width="1.1"/>
<line x1="242.20" y1="484.49" x2="250.00" y2="484.49" stroke="#111" stroke-width="1.1"/>
<rect x="239.10" y="459.25" width="14.0" height="22.77" fill="#F47F76" stroke="#111" stroke-width="1.1"/>
<line x1="239.10" y1="475.25" x2="253.10" y2="475.25" stroke="#111" stroke-width="1.1"/>
<path d="M243.30,420.80 H248.90 M246.10,418.00 V423.60" stroke="#222" stroke-width="0.8"/>
<path d="M243.30,419.48 H248.90 M246.10,416.68 V422.28" stroke="#222" stroke-width="0.8"/>
<polygon points="246.10,464.86 246.98,467.24 249.52,467.34 247.53,468.92 248.22,471.37 246.10,469.96 243.98,471.37 244.67,468.92 242.68,467.34 245.22,467.24" fill="#fff" stroke="#222" stroke-width="0.6"/>
<line x1="274.00" y1="453.47" x2="274.00" y2="461.56" stroke="#111" stroke-width="1.1"/>
<line x1="274.00" y1="481.36" x2="274.00" y2="476.24" stroke="#111" stroke-width="1.1"/>
<line x1="270.10" y1="453.47" x2="277.90" y2="453.47" stroke="#111" stroke-width="1.1"/>
<line x1="270.10" y1="481.36" x2="277.90" y2="481.36" stroke="#111" stroke-width="1.1"/>
<rect x="267.00" y="461.56" width="14.0" height="14.69" fill="#FF5512" stroke="#111" stroke-width="1.1"/>
<line x1="267.00" y1="468.49" x2="281.00" y2="468.49" stroke="#111" stroke-width="1.1"/>
<path d="M271.20,430.37 H276.80 M274.00,427.57 V433.17" stroke="#222" stroke-width="0.8"/>
<path d="M271.20,396.55 H276.80 M274.00,393.75 V399.35" stroke="#222" stroke-width="0.8"/>
<polygon points="274.00,459.74 274.88,462.13 277.42,462.23 275.43,463.80 276.12,466.25 274.00,464.84 271.88,466.25 272.57,463.80 270.58,462.23 273.12,462.13" fill="#fff" stroke="#222" stroke-width="0.6"/>
<text x="52.1" y="370.6" font-family="Liberation Serif" font-size="15.4" fill="#111">(B)</text>
<text x="156.1" y="382" font-family="Liberation Serif" font-size="14.6" font-style="italic" fill="#111" textLength="67.2" lengthAdjust="spacing">glnA/recA</text>
<text x="239" y="385.7" font-family="Liberation Serif" font-size="8.8" font-style="italic" fill="#333">p</text>
<text x="245.60" y="385.7" font-family="Liberation Sans" font-size="8.4" fill="#222">=</text>
<text x="254.30" y="385.7" font-family="Liberation Sans" font-size="7.8" fill="#222" textLength="33.2" lengthAdjust="spacingAndGlyphs">1.45e-11</text>
<text x="164" y="514.3" font-family="Liberation Serif" font-size="9.3" fill="#222" textLength="65.5" lengthAdjust="spacingAndGlyphs">Temperature (°C)</text>
<text transform="translate(78.9,437.30) rotate(-90)" x="0" y="0" font-family="Liberation Sans" font-size="8.5" fill="#222" text-anchor="middle" textLength="83.2" lengthAdjust="spacingAndGlyphs">Number of sequences</text>
<line x1="371.3" y1="388.40" x2="371.3" y2="486.5" stroke="#8a8a8a" stroke-width="1"/>
<line x1="371.3" y1="486.5" x2="566.8" y2="486.5" stroke="#8a8a8a" stroke-width="1"/>
<line x1="371.3" y1="486.50" x2="374.8" y2="486.50" stroke="#8a8a8a" stroke-width="0.8"/>
<text x="367.7" y="488.90" font-family="Liberation Sans" font-size="8.6" fill="#222" text-anchor="end">0</text>
<line x1="371.3" y1="470.15" x2="374.8" y2="470.15" stroke="#8a8a8a" stroke-width="0.8"/>
<text x="367.7" y="472.55" font-family="Liberation Sans" font-size="8.6" fill="#222" text-anchor="end">20</text>
<line x1="371.3" y1="453.80" x2="374.8" y2="453.80" stroke="#8a8a8a" stroke-width="0.8"/>
<text x="367.7" y="456.20" font-family="Liberation Sans" font-size="8.6" fill="#222" text-anchor="end">40</text>
<line x1="371.3" y1="437.45" x2="374.8" y2="437.45" stroke="#8a8a8a" stroke-width="0.8"/>
<text x="367.7" y="439.85" font-family="Liberation Sans" font-size="8.6" fill="#222" text-anchor="end">60</text>
<line x1="371.3" y1="421.10" x2="374.8" y2="421.10" stroke="#8a8a8a" stroke-width="0.8"/>
<text x="367.7" y="423.50" font-family="Liberation Sans" font-size="8.6" fill="#222" text-anchor="end">80</text>
<line x1="371.3" y1="404.75" x2="374.8" y2="404.75" stroke="#8a8a8a" stroke-width="0.8"/>
<text x="367.7" y="407.15" font-family="Liberation Sans" font-size="8.6" fill="#222" text-anchor="end">100</text>
<line x1="371.3" y1="388.40" x2="374.8" y2="388.40" stroke="#8a8a8a" stroke-width="0.8"/>
<text x="367.7" y="390.80" font-family="Liberation Sans" font-size="8.6" fill="#222" text-anchor="end">120</text>
<line x1="384.90" y1="486.5" x2="384.90" y2="483.5" stroke="#8a8a8a" stroke-width="0.8"/>
<text x="383.20" y="499.2" font-family="Liberation Serif" font-size="9.2" fill="#222" text-anchor="middle">&lt;0</text>
<line x1="412.85" y1="486.5" x2="412.85" y2="483.5" stroke="#8a8a8a" stroke-width="0.8"/>
<text x="412.80" y="499.2" font-family="Liberation Serif" font-size="9.2" fill="#222" text-anchor="middle">0-5</text>
<line x1="440.80" y1="486.5" x2="440.80" y2="483.5" stroke="#8a8a8a" stroke-width="0.8"/>
<text x="441.90" y="499.2" font-family="Liberation Serif" font-size="9.2" fill="#222" text-anchor="middle">5-10</text>
<line x1="468.75" y1="486.5" x2="468.75" y2="483.5" stroke="#8a8a8a" stroke-width="0.8"/>
<text x="468.10" y="499.2" font-family="Liberation Serif" font-size="9.2" fill="#222" text-anchor="middle">10-15</text>
<line x1="496.70" y1="486.5" x2="496.70" y2="483.5" stroke="#8a8a8a" stroke-width="0.8"/>
<text x="496.70" y="499.2" font-family="Liberation Serif" font-size="9.2" fill="#222" text-anchor="middle">15-20</text>
<line x1="524.65" y1="486.5" x2="524.65" y2="483.5" stroke="#8a8a8a" stroke-width="0.8"/>
<text x="525.50" y="499.2" font-family="Liberation Serif" font-size="9.2" fill="#222" text-anchor="middle">20-25</text>
<line x1="552.60" y1="486.5" x2="552.60" y2="483.5" stroke="#8a8a8a" stroke-width="0.8"/>
<text x="553.90" y="499.2" font-family="Liberation Serif" font-size="9.2" fill="#222" text-anchor="middle">25-30</text>
<line x1="384.90" y1="429.60" x2="384.90" y2="445.46" stroke="#111" stroke-width="1.1"/>
<line x1="384.90" y1="471.54" x2="384.90" y2="464.26" stroke="#111" stroke-width="1.1"/>
<line x1="381.00" y1="429.60" x2="388.80" y2="429.60" stroke="#111" stroke-width="1.1"/>
<line x1="381.00" y1="471.54" x2="388.80" y2="471.54" stroke="#111" stroke-width="1.1"/>
<rect x="377.90" y="445.46" width="14.0" height="18.80" fill="#1EA0F5" stroke="#111" stroke-width="1.1"/>
<line x1="377.90" y1="458.21" x2="391.90" y2="458.21" stroke="#111" stroke-width="1.1"/>
<polygon points="384.90,450.99 385.78,453.38 388.32,453.48 386.33,455.05 387.02,457.50 384.90,456.09 382.78,457.50 383.47,455.05 381.48,453.48 384.02,453.38" fill="#fff" stroke="#222" stroke-width="0.6"/>
<line x1="412.85" y1="401.07" x2="412.85" y2="438.84" stroke="#111" stroke-width="1.1"/>
<line x1="412.85" y1="472.68" x2="412.85" y2="464.26" stroke="#111" stroke-width="1.1"/>
<line x1="408.95" y1="401.07" x2="416.75" y2="401.07" stroke="#111" stroke-width="1.1"/>
<line x1="408.95" y1="472.68" x2="416.75" y2="472.68" stroke="#111" stroke-width="1.1"/>
<rect x="405.85" y="438.84" width="14.0" height="25.42" fill="#00F2F2" stroke="#111" stroke-width="1.1"/>
<line x1="405.85" y1="461.89" x2="419.85" y2="461.89" stroke="#111" stroke-width="1.1"/>
<polygon points="412.85,448.78 413.73,451.17 416.27,451.27 414.28,452.85 414.97,455.30 412.85,453.88 410.73,455.30 411.42,452.85 409.43,451.27 411.97,451.17" fill="#fff" stroke="#222" stroke-width="0.6"/>
<line x1="440.80" y1="449.63" x2="440.80" y2="455.19" stroke="#111" stroke-width="1.1"/>
<line x1="440.80" y1="479.88" x2="440.80" y2="465.41" stroke="#111" stroke-width="1.1"/>
<line x1="436.90" y1="449.63" x2="444.70" y2="449.63" stroke="#111" stroke-width="1.1"/>
<line x1="436.90" y1="479.88" x2="444.70" y2="479.88" stroke="#111" stroke-width="1.1"/>
<rect x="433.80" y="455.19" width="14.0" height="10.22" fill="#A8F57A" stroke="#111" stroke-width="1.1"/>
<line x1="433.80" y1="458.38" x2="447.80" y2="458.38" stroke="#111" stroke-width="1.1"/>
<polygon points="440.80,458.59 441.68,460.98 444.22,461.08 442.23,462.66 442.92,465.11 440.80,463.69 438.68,465.11 439.37,462.66 437.38,461.08 439.92,460.98" fill="#fff" stroke="#222" stroke-width="0.6"/>
<line x1="468.75" y1="485.52" x2="468.75" y2="485.76" stroke="#333" stroke-width="0.8"/>
<line x1="468.75" y1="486.50" x2="468.75" y2="486.50" stroke="#333" stroke-width="0.8"/>
<line x1="464.85" y1="485.52" x2="472.65" y2="485.52" stroke="#333" stroke-width="0.8"/>
<line x1="464.85" y1="486.50" x2="472.65" y2="486.50" stroke="#333" stroke-width="0.8"/>
<rect x="461.75" y="485.76" width="14.0" height="0.74" fill="#444" stroke="#333" stroke-width="0.8"/>
<line x1="461.75" y1="486.17" x2="475.75" y2="486.17" stroke="#333" stroke-width="0.8"/>
<polygon points="468.75,483.33 469.28,484.76 470.80,484.82 469.61,485.77 470.02,487.24 468.75,486.39 467.48,487.24 467.89,485.77 466.70,484.82 468.22,484.76" fill="#fff" stroke="#222" stroke-width="0.6"/>
<line x1="496.70" y1="485.85" x2="496.70" y2="486.01" stroke="#333" stroke-width="0.8"/>
<line x1="496.70" y1="486.50" x2="496.70" y2="486.50" stroke="#333" stroke-width="0.8"/>
<line x1="492.80" y1="485.85" x2="500.60" y2="485.85" stroke="#333" stroke-width="0.8"/>
<line x1="492.80" y1="486.50" x2="500.60" y2="486.50" stroke="#333" stroke-width="0.8"/>
<rect x="489.70" y="486.01" width="14.0" height="0.49" fill="#444" stroke="#333" stroke-width="0.8"/>
<line x1="489.70" y1="486.25" x2="503.70" y2="486.25" stroke="#333" stroke-width="0.8"/>
<polygon points="496.70,483.76 497.18,485.07 498.58,485.13 497.48,485.99 497.86,487.34 496.70,486.56 495.54,487.34 495.92,485.99 494.82,485.13 496.22,485.07" fill="#fff" stroke="#222" stroke-width="0.6"/>
<line x1="524.65" y1="485.85" x2="524.65" y2="486.01" stroke="#333" stroke-width="0.8"/>
<line x1="524.65" y1="486.50" x2="524.65" y2="486.50" stroke="#333" stroke-width="0.8"/>
<line x1="520.75" y1="485.85" x2="528.55" y2="485.85" stroke="#333" stroke-width="0.8"/>
<line x1="520.75" y1="486.50" x2="528.55" y2="486.50" stroke="#333" stroke-width="0.8"/>
<rect x="517.65" y="486.01" width="14.0" height="0.49" fill="#444" stroke="#333" stroke-width="0.8"/>
<line x1="517.65" y1="486.25" x2="531.65" y2="486.25" stroke="#333" stroke-width="0.8"/>
<path d="M521.85,482.41 H527.45 M524.65,479.61 V485.21" stroke="#222" stroke-width="0.8"/>
<polygon points="524.65,483.76 525.13,485.07 526.53,485.13 525.43,485.99 525.81,487.34 524.65,486.56 523.49,487.34 523.87,485.99 522.77,485.13 524.17,485.07" fill="#fff" stroke="#222" stroke-width="0.6"/>
<line x1="552.60" y1="485.85" x2="552.60" y2="486.01" stroke="#333" stroke-width="0.8"/>
<line x1="552.60" y1="486.50" x2="552.60" y2="486.50" stroke="#333" stroke-width="0.8"/>
<line x1="548.70" y1="485.85" x2="556.50" y2="485.85" stroke="#333" stroke-width="0.8"/>
<line x1="548.70" y1="486.50" x2="556.50" y2="486.50" stroke="#333" stroke-width="0.8"/>
<rect x="545.60" y="486.01" width="14.0" height="0.49" fill="#444" stroke="#333" stroke-width="0.8"/>
<line x1="545.60" y1="486.25" x2="559.60" y2="486.25" stroke="#333" stroke-width="0.8"/>
<polygon points="552.60,483.76 553.08,485.07 554.48,485.13 553.38,485.99 553.76,487.34 552.60,486.56 551.44,487.34 551.82,485.99 550.72,485.13 552.12,485.07" fill="#fff" stroke="#222" stroke-width="0.6"/>
<text x="334.5" y="370.6" font-family="Liberation Serif" font-size="15.4" fill="#111">(C)</text>
<text x="437.6" y="381.8" font-family="Liberation Serif" font-size="14.6" font-style="italic" fill="#111" textLength="66.6" lengthAdjust="spacing">glnQ/recA</text>
<text x="529.4" y="385.2" font-family="Liberation Serif" font-size="8.8" font-style="italic" fill="#333">p</text>
<text x="536.00" y="385.2" font-family="Liberation Sans" font-size="8.4" fill="#222">=</text>
<text x="544.70" y="385.2" font-family="Liberation Sans" font-size="7.8" fill="#222" textLength="21.5" lengthAdjust="spacingAndGlyphs">0.197</text>
<text x="442.3" y="512.2" font-family="Liberation Serif" font-size="9.3" fill="#222" textLength="65.5" lengthAdjust="spacingAndGlyphs">Temperature (°C)</text>
<text transform="translate(348.4,437.45) rotate(-90)" x="0" y="0" font-family="Liberation Sans" font-size="8.5" fill="#222" text-anchor="middle" textLength="83.2" lengthAdjust="spacingAndGlyphs">Number of sequences</text>
<line x1="92.7" y1="563.80" x2="92.7" y2="662.8" stroke="#8a8a8a" stroke-width="1"/>
<line x1="92.7" y1="662.8" x2="287.9" y2="662.8" stroke="#8a8a8a" stroke-width="1"/>
<line x1="92.7" y1="662.80" x2="96.2" y2="662.80" stroke="#8a8a8a" stroke-width="0.8"/>
<text x="89.10000000000001" y="665.20" font-family="Liberation Sans" font-size="8.6" fill="#222" text-anchor="end">0.0</text>
<line x1="92.7" y1="638.05" x2="96.2" y2="638.05" stroke="#8a8a8a" stroke-width="0.8"/>
<text x="89.10000000000001" y="640.45" font-family="Liberation Sans" font-size="8.6" fill="#222" text-anchor="end">0.5</text>
<line x1="92.7" y1="613.30" x2="96.2" y2="613.30" stroke="#8a8a8a" stroke-width="0.8"/>
<text x="89.10000000000001" y="615.70" font-family="Liberation Sans" font-size="8.6" fill="#222" text-anchor="end">1.0</text>
<line x1="92.7" y1="588.55" x2="96.2" y2="588.55" stroke="#8a8a8a" stroke-width="0.8"/>
<text x="89.10000000000001" y="590.95" font-family="Liberation Sans" font-size="8.6" fill="#222" text-anchor="end">1.5</text>
<line x1="92.7" y1="563.80" x2="96.2" y2="563.80" stroke="#8a8a8a" stroke-width="0.8"/>
<text x="89.10000000000001" y="566.20" font-family="Liberation Sans" font-size="8.6" fill="#222" text-anchor="end">2.0</text>
<line x1="106.60" y1="662.8" x2="106.60" y2="659.8" stroke="#8a8a8a" stroke-width="0.8"/>
<text x="105.30" y="675.9" font-family="Liberation Serif" font-size="9.2" fill="#222" text-anchor="middle">&lt;0</text>
<line x1="134.50" y1="662.8" x2="134.50" y2="659.8" stroke="#8a8a8a" stroke-width="0.8"/>
<text x="135.00" y="675.9" font-family="Liberation Serif" font-size="9.2" fill="#222" text-anchor="middle">0-5</text>
<line x1="162.40" y1="662.8" x2="162.40" y2="659.8" stroke="#8a8a8a" stroke-width="0.8"/>
<text x="163.60" y="675.9" font-family="Liberation Serif" font-size="9.2" fill="#222" text-anchor="middle">5-10</text>
<line x1="190.30" y1="662.8" x2="190.30" y2="659.8" stroke="#8a8a8a" stroke-width="0.8"/>
<text x="190.30" y="675.9" font-family="Liberation Serif" font-size="9.2" fill="#222" text-anchor="middle">10-15</text>
<line x1="218.20" y1="662.8" x2="218.20" y2="659.8" stroke="#8a8a8a" stroke-width="0.8"/>
<text x="218.90" y="675.9" font-family="Liberation Serif" font-size="9.2" fill="#222" text-anchor="middle">15-20</text>
<line x1="246.10" y1="662.8" x2="246.10" y2="659.8" stroke="#8a8a8a" stroke-width="0.8"/>
<text x="247.70" y="675.9" font-family="Liberation Serif" font-size="9.2" fill="#222" text-anchor="middle">20-25</text>
<line x1="274.00" y1="662.8" x2="274.00" y2="659.8" stroke="#8a8a8a" stroke-width="0.8"/>
<text x="276.20" y="675.9" font-family="Liberation Serif" font-size="9.2" fill="#222" text-anchor="middle">25-30</text>
<line x1="106.60" y1="657.35" x2="106.60" y2="657.50" stroke="#111" stroke-width="1.1"/>
<line x1="106.60" y1="660.08" x2="106.60" y2="659.48" stroke="#111" stroke-width="1.1"/>
<line x1="102.70" y1="657.35" x2="110.50" y2="657.35" stroke="#111" stroke-width="1.1"/>
<line x1="102.70" y1="660.08" x2="110.50" y2="660.08" stroke="#111" stroke-width="1.1"/>
<rect x="99.60" y="657.50" width="14.0" height="1.98" fill="#222" stroke="#111" stroke-width="1.1"/>
<line x1="99.60" y1="658.34" x2="113.60" y2="658.34" stroke="#111" stroke-width="1.1"/>
<path d="M103.80,654.38 H109.40 M106.60,651.59 V657.18" stroke="#222" stroke-width="0.8"/>
<polygon points="106.60,655.76 107.31,657.67 109.34,657.76 107.74,659.02 108.29,660.97 106.60,659.84 104.91,660.97 105.46,659.02 103.86,657.76 105.89,657.67" fill="#fff" stroke="#222" stroke-width="0.6"/>
<line x1="134.50" y1="653.89" x2="134.50" y2="655.03" stroke="#111" stroke-width="1.1"/>
<line x1="134.50" y1="661.56" x2="134.50" y2="658.69" stroke="#111" stroke-width="1.1"/>
<line x1="130.60" y1="653.89" x2="138.40" y2="653.89" stroke="#111" stroke-width="1.1"/>
<line x1="130.60" y1="661.56" x2="138.40" y2="661.56" stroke="#111" stroke-width="1.1"/>
<rect x="127.50" y="655.03" width="14.0" height="3.66" fill="#4FB8C4" stroke="#111" stroke-width="1.1"/>
<line x1="127.50" y1="656.86" x2="141.50" y2="656.86" stroke="#111" stroke-width="1.1"/>
<polygon points="134.50,654.77 135.21,656.68 137.24,656.77 135.64,658.03 136.19,659.98 134.50,658.85 132.81,659.98 133.36,658.03 131.76,656.77 133.79,656.68" fill="#fff" stroke="#222" stroke-width="0.6"/>
<line x1="162.40" y1="646.46" x2="162.40" y2="651.61" stroke="#111" stroke-width="1.1"/>
<line x1="162.40" y1="659.48" x2="162.40" y2="658.69" stroke="#111" stroke-width="1.1"/>
<line x1="158.50" y1="646.46" x2="166.30" y2="646.46" stroke="#111" stroke-width="1.1"/>
<line x1="158.50" y1="659.48" x2="166.30" y2="659.48" stroke="#111" stroke-width="1.1"/>
<rect x="155.40" y="651.61" width="14.0" height="7.08" fill="#7ED957" stroke="#111" stroke-width="1.1"/>
<line x1="155.40" y1="655.03" x2="169.40" y2="655.03" stroke="#111" stroke-width="1.1"/>
<polygon points="162.40,651.44 163.19,653.59 165.48,653.68 163.68,655.10 164.30,657.31 162.40,656.03 160.50,657.31 161.12,655.10 159.32,653.68 161.61,653.59" fill="#fff" stroke="#222" stroke-width="0.6"/>
<line x1="190.30" y1="628.64" x2="190.30" y2="630.13" stroke="#111" stroke-width="1.1"/>
<line x1="190.30" y1="646.96" x2="190.30" y2="646.46" stroke="#111" stroke-width="1.1"/>
<line x1="186.40" y1="628.64" x2="194.20" y2="628.64" stroke="#111" stroke-width="1.1"/>
<line x1="186.40" y1="646.96" x2="194.20" y2="646.96" stroke="#111" stroke-width="1.1"/>
<rect x="183.30" y="630.13" width="14.0" height="16.33" fill="#FFF86C" stroke="#111" stroke-width="1.1"/>
<line x1="183.30" y1="643.00" x2="197.30" y2="643.00" stroke="#111" stroke-width="1.1"/>
<path d="M187.50,599.44 H193.10 M190.30,596.64 V602.24" stroke="#222" stroke-width="0.8"/>
<polygon points="190.30,631.78 191.18,634.17 193.72,634.27 191.73,635.84 192.42,638.29 190.30,636.88 188.18,638.29 188.87,635.84 186.88,634.27 189.42,634.17" fill="#fff" stroke="#222" stroke-width="0.6"/>
<line x1="218.20" y1="607.36" x2="218.20" y2="629.14" stroke="#111" stroke-width="1.1"/>
<line x1="218.20" y1="654.38" x2="218.20" y2="649.19" stroke="#111" stroke-width="1.1"/>
<line x1="214.30" y1="607.36" x2="222.10" y2="607.36" stroke="#111" stroke-width="1.1"/>
<line x1="214.30" y1="654.38" x2="222.10" y2="654.38" stroke="#111" stroke-width="1.1"/>
<rect x="211.20" y="629.14" width="14.0" height="20.05" fill="#FFA97A" stroke="#111" stroke-width="1.1"/>
<line x1="211.20" y1="642.01" x2="225.20" y2="642.01" stroke="#111" stroke-width="1.1"/>
<path d="M215.40,585.58 H221.00 M218.20,582.78 V588.38" stroke="#222" stroke-width="0.8"/>
<path d="M215.40,564.79 H221.00 M218.20,561.99 V567.59" stroke="#222" stroke-width="0.8"/>
<polygon points="218.20,629.80 219.08,632.19 221.62,632.29 219.63,633.86 220.32,636.31 218.20,634.90 216.08,636.31 216.77,633.86 214.78,632.29 217.32,632.19" fill="#fff" stroke="#222" stroke-width="0.6"/>
<line x1="246.10" y1="619.73" x2="246.10" y2="638.54" stroke="#111" stroke-width="1.1"/>
<line x1="246.10" y1="659.83" x2="246.10" y2="653.89" stroke="#111" stroke-width="1.1"/>
<line x1="242.20" y1="619.73" x2="250.00" y2="619.73" stroke="#111" stroke-width="1.1"/>
<line x1="242.20" y1="659.83" x2="250.00" y2="659.83" stroke="#111" stroke-width="1.1"/>
<rect x="239.10" y="638.54" width="14.0" height="15.35" fill="#F47F76" stroke="#111" stroke-width="1.1"/>
<line x1="239.10" y1="647.45" x2="253.10" y2="647.45" stroke="#111" stroke-width="1.1"/>
<polygon points="246.10,642.67 246.98,645.06 249.52,645.16 247.53,646.73 248.22,649.18 246.10,647.77 243.98,649.18 244.67,646.73 242.68,645.16 245.22,645.06" fill="#fff" stroke="#222" stroke-width="0.6"/>
<line x1="274.00" y1="617.26" x2="274.00" y2="623.20" stroke="#111" stroke-width="1.1"/>
<line x1="274.00" y1="658.84" x2="274.00" y2="651.41" stroke="#111" stroke-width="1.1"/>
<line x1="270.10" y1="617.26" x2="277.90" y2="617.26" stroke="#111" stroke-width="1.1"/>
<line x1="270.10" y1="658.84" x2="277.90" y2="658.84" stroke="#111" stroke-width="1.1"/>
<rect x="267.00" y="623.20" width="14.0" height="28.22" fill="#FF5512" stroke="#111" stroke-width="1.1"/>
<line x1="267.00" y1="636.32" x2="281.00" y2="636.32" stroke="#111" stroke-width="1.1"/>
<path d="M271.20,569.25 H276.80 M274.00,566.45 V572.04" stroke="#222" stroke-width="0.8"/>
<polygon points="274.00,633.02 274.88,635.40 277.42,635.51 275.43,637.08 276.12,639.53 274.00,638.12 271.88,639.53 272.57,637.08 270.58,635.51 273.12,635.40" fill="#fff" stroke="#222" stroke-width="0.6"/>
<text x="54.3" y="553.3" font-family="Liberation Serif" font-size="15.4" fill="#111">(D)</text>
<text x="165.9" y="558.8" font-family="Liberation Serif" font-size="14.6" font-style="italic" fill="#111" textLength="51.2" lengthAdjust="spacing">icd/recA</text>
<text x="243.8" y="561.4" font-family="Liberation Serif" font-size="8.8" font-style="italic" fill="#333">p</text>
<text x="250.40" y="561.4" font-family="Liberation Sans" font-size="8.4" fill="#222">=</text>
<text x="259.10" y="561.4" font-family="Liberation Sans" font-size="7.8" fill="#222" textLength="28.6" lengthAdjust="spacingAndGlyphs">2.87e-3</text>
<text x="162.2" y="689.8" font-family="Liberation Serif" font-size="9.3" fill="#222" textLength="65.5" lengthAdjust="spacingAndGlyphs">Temperature (°C)</text>
<text transform="translate(72.4,613.30) rotate(-90)" x="0" y="0" font-family="Liberation Sans" font-size="8.5" fill="#222" text-anchor="middle" textLength="83.2" lengthAdjust="spacingAndGlyphs">Number of sequences</text>
<line x1="371" y1="563.70" x2="371" y2="663.1" stroke="#8a8a8a" stroke-width="1"/>
<line x1="371" y1="663.1" x2="566.8" y2="663.1" stroke="#8a8a8a" stroke-width="1"/>
<line x1="371" y1="663.10" x2="374.5" y2="663.10" stroke="#8a8a8a" stroke-width="0.8"/>
<text x="367.4" y="665.50" font-family="Liberation Sans" font-size="8.6" fill="#222" text-anchor="end">0</text>
<line x1="371" y1="638.25" x2="374.5" y2="638.25" stroke="#8a8a8a" stroke-width="0.8"/>
<text x="367.4" y="640.65" font-family="Liberation Sans" font-size="8.6" fill="#222" text-anchor="end">50</text>
<line x1="371" y1="613.40" x2="374.5" y2="613.40" stroke="#8a8a8a" stroke-width="0.8"/>
<text x="367.4" y="615.80" font-family="Liberation Sans" font-size="8.6" fill="#222" text-anchor="end">100</text>
<line x1="371" y1="588.55" x2="374.5" y2="588.55" stroke="#8a8a8a" stroke-width="0.8"/>
<text x="367.4" y="590.95" font-family="Liberation Sans" font-size="8.6" fill="#222" text-anchor="end">150</text>
<line x1="371" y1="563.70" x2="374.5" y2="563.70" stroke="#8a8a8a" stroke-width="0.8"/>
<text x="367.4" y="566.10" font-family="Liberation Sans" font-size="8.6" fill="#222" text-anchor="end">200</text>
<line x1="384.90" y1="663.1" x2="384.90" y2="660.1" stroke="#8a8a8a" stroke-width="0.8"/>
<text x="382.40" y="675.5" font-family="Liberation Serif" font-size="9.2" fill="#222" text-anchor="middle">&lt;0</text>
<line x1="412.85" y1="663.1" x2="412.85" y2="660.1" stroke="#8a8a8a" stroke-width="0.8"/>
<text x="412.00" y="675.5" font-family="Liberation Serif" font-size="9.2" fill="#222" text-anchor="middle">0-5</text>
<line x1="440.80" y1="663.1" x2="440.80" y2="660.1" stroke="#8a8a8a" stroke-width="0.8"/>
<text x="441.60" y="675.5" font-family="Liberation Serif" font-size="9.2" fill="#222" text-anchor="middle">5-10</text>
<line x1="468.75" y1="663.1" x2="468.75" y2="660.1" stroke="#8a8a8a" stroke-width="0.8"/>
<text x="468.10" y="675.5" font-family="Liberation Serif" font-size="9.2" fill="#222" text-anchor="middle">10-15</text>
<line x1="496.70" y1="663.1" x2="496.70" y2="660.1" stroke="#8a8a8a" stroke-width="0.8"/>
<text x="496.60" y="675.5" font-family="Liberation Serif" font-size="9.2" fill="#222" text-anchor="middle">15-20</text>
<line x1="524.65" y1="663.1" x2="524.65" y2="660.1" stroke="#8a8a8a" stroke-width="0.8"/>
<text x="525.20" y="675.5" font-family="Liberation Serif" font-size="9.2" fill="#222" text-anchor="middle">20-25</text>
<line x1="552.60" y1="663.1" x2="552.60" y2="660.1" stroke="#8a8a8a" stroke-width="0.8"/>
<text x="553.80" y="675.5" font-family="Liberation Serif" font-size="9.2" fill="#222" text-anchor="middle">25-30</text>
<line x1="384.90" y1="648.39" x2="384.90" y2="651.42" stroke="#111" stroke-width="1.1"/>
<line x1="384.90" y1="663.10" x2="384.90" y2="662.40" stroke="#111" stroke-width="1.1"/>
<line x1="381.00" y1="648.39" x2="388.80" y2="648.39" stroke="#111" stroke-width="1.1"/>
<line x1="381.00" y1="663.10" x2="388.80" y2="663.10" stroke="#111" stroke-width="1.1"/>
<rect x="377.90" y="651.42" width="14.0" height="10.98" fill="#1E9EF5" stroke="#111" stroke-width="1.1"/>
<line x1="377.90" y1="658.68" x2="391.90" y2="658.68" stroke="#111" stroke-width="1.1"/>
<path d="M382.10,634.08 H387.70 M384.90,631.28 V636.88" stroke="#222" stroke-width="0.8"/>
<path d="M382.10,604.45 H387.70 M384.90,601.65 V607.25" stroke="#222" stroke-width="0.8"/>
<polygon points="384.90,648.32 385.78,650.71 388.32,650.81 386.33,652.38 387.02,654.83 384.90,653.42 382.78,654.83 383.47,652.38 381.48,650.81 384.02,650.71" fill="#fff" stroke="#222" stroke-width="0.6"/>
<line x1="412.85" y1="620.21" x2="412.85" y2="634.08" stroke="#111" stroke-width="1.1"/>
<line x1="412.85" y1="662.60" x2="412.85" y2="658.68" stroke="#111" stroke-width="1.1"/>
<line x1="408.95" y1="620.21" x2="416.75" y2="620.21" stroke="#111" stroke-width="1.1"/>
<line x1="408.95" y1="662.60" x2="416.75" y2="662.60" stroke="#111" stroke-width="1.1"/>
<rect x="405.85" y="634.08" width="14.0" height="24.60" fill="#A8F7FB" stroke="#111" stroke-width="1.1"/>
<line x1="405.85" y1="649.18" x2="419.85" y2="649.18" stroke="#111" stroke-width="1.1"/>
<path d="M410.05,591.58 H415.65 M412.85,588.78 V594.38" stroke="#222" stroke-width="0.8"/>
<path d="M410.05,573.39 H415.65 M412.85,570.59 V576.19" stroke="#222" stroke-width="0.8"/>
<polygon points="412.85,635.99 413.73,638.38 416.27,638.48 414.28,640.06 414.97,642.51 412.85,641.09 410.73,642.51 411.42,640.06 409.43,638.48 411.97,638.38" fill="#fff" stroke="#222" stroke-width="0.6"/>
<line x1="440.80" y1="641.48" x2="440.80" y2="641.48" stroke="#111" stroke-width="1.1"/>
<line x1="440.80" y1="659.32" x2="440.80" y2="657.09" stroke="#111" stroke-width="1.1"/>
<line x1="436.90" y1="641.48" x2="444.70" y2="641.48" stroke="#111" stroke-width="1.1"/>
<line x1="436.90" y1="659.32" x2="444.70" y2="659.32" stroke="#111" stroke-width="1.1"/>
<rect x="433.80" y="641.48" width="14.0" height="15.61" fill="#A6F57A" stroke="#111" stroke-width="1.1"/>
<line x1="433.80" y1="655.99" x2="447.80" y2="655.99" stroke="#111" stroke-width="1.1"/>
<path d="M438.00,600.38 H443.60 M440.80,597.58 V603.18" stroke="#222" stroke-width="0.8"/>
<polygon points="440.80,639.32 441.68,641.71 444.22,641.81 442.23,643.39 442.92,645.84 440.80,644.42 438.68,645.84 439.37,643.39 437.38,641.81 439.92,641.71" fill="#fff" stroke="#222" stroke-width="0.6"/>
<line x1="468.75" y1="641.58" x2="468.75" y2="648.19" stroke="#111" stroke-width="1.1"/>
<line x1="468.75" y1="662.21" x2="468.75" y2="660.32" stroke="#111" stroke-width="1.1"/>
<line x1="464.85" y1="641.58" x2="472.65" y2="641.58" stroke="#111" stroke-width="1.1"/>
<line x1="464.85" y1="662.21" x2="472.65" y2="662.21" stroke="#111" stroke-width="1.1"/>
<rect x="461.75" y="648.19" width="14.0" height="12.13" fill="#FFF56E" stroke="#111" stroke-width="1.1"/>
<line x1="461.75" y1="660.12" x2="475.75" y2="660.12" stroke="#111" stroke-width="1.1"/>
<polygon points="468.75,651.20 469.63,653.59 472.17,653.69 470.18,655.27 470.87,657.71 468.75,656.30 466.63,657.71 467.32,655.27 465.33,653.69 467.87,653.59" fill="#fff" stroke="#222" stroke-width="0.6"/>
<line x1="496.70" y1="616.58" x2="496.70" y2="640.88" stroke="#111" stroke-width="1.1"/>
<line x1="496.70" y1="661.51" x2="496.70" y2="659.62" stroke="#111" stroke-width="1.1"/>
<line x1="492.80" y1="616.58" x2="500.60" y2="616.58" stroke="#111" stroke-width="1.1"/>
<line x1="492.80" y1="661.51" x2="500.60" y2="661.51" stroke="#111" stroke-width="1.1"/>
<rect x="489.70" y="640.88" width="14.0" height="18.74" fill="#FFA97A" stroke="#111" stroke-width="1.1"/>
<line x1="489.70" y1="655.20" x2="503.70" y2="655.20" stroke="#111" stroke-width="1.1"/>
<path d="M493.90,608.93 H499.50 M496.70,606.13 V611.73" stroke="#222" stroke-width="0.8"/>
<path d="M493.90,586.71 H499.50 M496.70,583.91 V589.51" stroke="#222" stroke-width="0.8"/>
<polygon points="496.70,642.31 497.58,644.69 500.12,644.79 498.13,646.37 498.82,648.82 496.70,647.41 494.58,648.82 495.27,646.37 493.28,644.79 495.82,644.69" fill="#fff" stroke="#222" stroke-width="0.6"/>
<line x1="524.65" y1="651.42" x2="524.65" y2="655.40" stroke="#111" stroke-width="1.1"/>
<line x1="524.65" y1="662.60" x2="524.65" y2="661.51" stroke="#111" stroke-width="1.1"/>
<line x1="520.75" y1="651.42" x2="528.55" y2="651.42" stroke="#111" stroke-width="1.1"/>
<line x1="520.75" y1="662.60" x2="528.55" y2="662.60" stroke="#111" stroke-width="1.1"/>
<rect x="517.65" y="655.40" width="14.0" height="6.11" fill="#F47F76" stroke="#111" stroke-width="1.1"/>
<line x1="517.65" y1="659.62" x2="531.65" y2="659.62" stroke="#111" stroke-width="1.1"/>
<path d="M521.85,640.39 H527.45 M524.65,637.59 V643.19" stroke="#222" stroke-width="0.8"/>
<polygon points="524.65,654.68 525.53,657.07 528.07,657.17 526.08,658.74 526.77,661.19 524.65,659.78 522.53,661.19 523.22,658.74 521.23,657.17 523.77,657.07" fill="#fff" stroke="#222" stroke-width="0.6"/>
<line x1="552.60" y1="619.91" x2="552.60" y2="641.78" stroke="#111" stroke-width="1.1"/>
<line x1="552.60" y1="661.91" x2="552.60" y2="660.81" stroke="#111" stroke-width="1.1"/>
<line x1="548.70" y1="619.91" x2="556.50" y2="619.91" stroke="#111" stroke-width="1.1"/>
<line x1="548.70" y1="661.91" x2="556.50" y2="661.91" stroke="#111" stroke-width="1.1"/>
<rect x="545.60" y="641.78" width="14.0" height="19.04" fill="#FF5512" stroke="#111" stroke-width="1.1"/>
<line x1="545.60" y1="652.61" x2="559.60" y2="652.61" stroke="#111" stroke-width="1.1"/>
<path d="M549.80,586.07 H555.40 M552.60,583.27 V588.87" stroke="#222" stroke-width="0.8"/>
<polygon points="552.60,643.70 553.48,646.08 556.02,646.18 554.03,647.76 554.72,650.21 552.60,648.80 550.48,650.21 551.17,647.76 549.18,646.18 551.72,646.08" fill="#fff" stroke="#222" stroke-width="0.6"/>
<text x="334" y="553.6" font-family="Liberation Serif" font-size="15.4" fill="#111">(E)</text>
<text x="439.1" y="557.5" font-family="Liberation Serif" font-size="14.6" font-style="italic" fill="#111" textLength="62.4" lengthAdjust="spacing">cbbL/recA</text>
<text x="529.4" y="561.5" font-family="Liberation Serif" font-size="8.8" font-style="italic" fill="#333">p</text>
<text x="536.00" y="561.5" font-family="Liberation Sans" font-size="8.4" fill="#222">=</text>
<text x="544.70" y="561.5" font-family="Liberation Sans" font-size="7.8" fill="#222" textLength="21.5" lengthAdjust="spacingAndGlyphs">0.061</text>
<text x="447" y="689.5" font-family="Liberation Serif" font-size="9.3" fill="#222" textLength="65.5" lengthAdjust="spacingAndGlyphs">Temperature (°C)</text>
<text transform="translate(347.1,613.40) rotate(-90)" x="0" y="0" font-family="Liberation Sans" font-size="8.5" fill="#222" text-anchor="middle" textLength="83.2" lengthAdjust="spacingAndGlyphs">Number of sequences</text>
</svg></body></html>
